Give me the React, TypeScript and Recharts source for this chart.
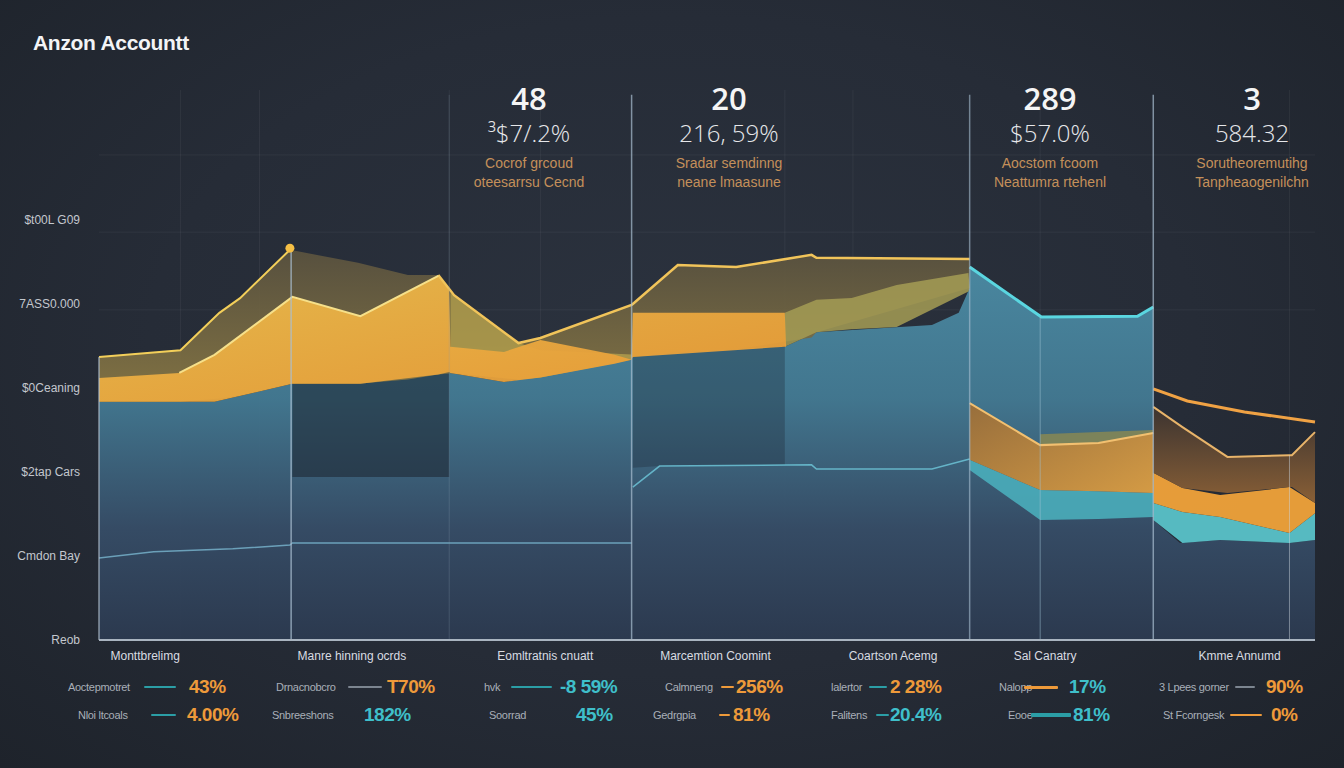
import React from 'react';
import { ComposedChart, Area, Line, XAxis, YAxis, CartesianGrid, ReferenceLine, ReferenceDot } from 'recharts';

// ---------- axis text ----------
const yTickValues = [0, 20, 40, 60, 80, 100];
const yTickLabels = ['Reob', 'Cmdon Bay', '$2tap Cars', '$0Ceaning', '7ASS0.000', '$t00L G09'];
const categoryPositions = [3.8, 20.8, 36.7, 50.7, 65.3, 77.8, 93.8];
const categories = ['Monttbrelimg', 'Manre hinning ocrds', 'Eomltratnis cnuatt', 'Marcemtion Coomint', 'Coartson Acemg', 'Sal Canatry', 'Kmme Annumd'];
const separatorXs = [15.8, 43.8, 71.6, 86.7];

// ---------- series values ----------
const baseX = [0, 9.5, 15.9, 21.0, 28.8, 28.9, 33.3, 43.8, 43.9, 46.1, 56.4, 59.0, 68.5, 70.7, 71.6, 71.6, 77.5, 85.4, 86.7, 86.7, 88.9, 92.2, 97.9, 100];
const baseTop = [56.7, 56.7, 61.0, 61.0, 63.8, 63.6, 61.4, 66.7, 67.4, 68.8, 69.8, 73.3, 75.0, 77.9, 83.8, 88.8, 76.9, 77.1, 79.3, 28.6, 23.1, 23.8, 23.1, 23.8];
const baseLow = [0, 0, 0, 0, 0, 0, 0, 0, 0, 0, 0, 0, 0, 0, 0, 0, 0, 0, 0, 0, 0, 0, 0, 0];

const shadeX = [15.9, 21.0, 28.8];
const shadeLow = [38.8, 38.8, 38.8];
const shadeTop = [61.0, 61.0, 63.8];
const shade3X = [43.9, 46.1, 56.4];
const shade3Low = [41.0, 41.4, 41.7];
const shade3Top = [67.4, 68.8, 69.8];

const oliveX = [0, 6.7, 9.9, 11.6, 15.7, 21.3, 25.4, 27.9, 29.2, 34.5, 36.3, 43.8, 43.9, 47.6, 52.4, 58.6, 59.0, 71.6];
const oliveTop = [67.4, 69.0, 77.9, 81.4, 92.9, 89.8, 86.9, 86.9, 82.1, 70.7, 71.9, 79.8, 80.0, 89.3, 88.8, 91.7, 91.0, 90.7];
const oliveLow = [56.7, 56.7, 57.5, 58.2, 61.0, 61.0, 62.0, 63.2, 63.6, 62.0, 62.5, 66.7, 67.4, 68.5, 69.2, 72.0, 73.3, 83.8];

const goldLineAX = [0, 6.7, 9.9, 11.6, 15.7];
const goldLineA = [67.4, 69.0, 77.9, 81.4, 92.9];
const goldLineBX = [27.9, 29.2, 34.5, 36.3, 43.8, 43.9, 47.6, 52.4, 58.6, 59.0, 71.6];
const goldLineB = [86.9, 82.1, 70.7, 71.9, 79.8, 80.0, 89.3, 88.8, 91.7, 91.0, 90.7];

const secondX = [6.6, 9.5, 15.9, 21.5, 27.9];
const secondV = [63.6, 67.9, 81.7, 77.1, 86.7];

const paleAX = [28.9, 34.5, 36.3, 43.8];
const paleATop = [82.6, 70.7, 69.0, 68.0];
const paleALow = [63.6, 62.0, 62.5, 66.7];
const paleBX = [56.4, 59.0, 61.9, 65.6, 71.5, 71.6];
const paleBTop = [77.9, 81.0, 81.4, 84.5, 87.4, 83.8];
const paleBLow = [69.8, 73.3, 74.0, 74.5, 83.0, 83.8];

const amberX = [0, 6.6, 9.5, 15.9, 21.5, 27.9, 28.8, 28.9, 33.3, 36.3, 42.4, 43.8, 43.9, 56.4, 56.5];
const amberTop = [62.4, 63.6, 67.9, 81.7, 77.1, 86.7, 83.3, 69.8, 68.6, 71.4, 67.9, 66.7, 77.9, 77.9, 69.8];
const amberLow = [56.7, 56.7, 56.7, 61.0, 61.0, 63.2, 63.8, 63.6, 61.4, 62.5, 65.8, 66.7, 67.4, 69.8, 69.8];

const paleLine1X = [0, 4.5, 11.0, 15.7, 15.9, 43.8];
const paleLine1 = [19.5, 21.0, 21.7, 22.6, 23.1, 23.1];
const paleLine2X = [43.9, 46.1, 58.6, 59.0, 68.5, 71.6];
const paleLine2 = [36.4, 41.4, 41.7, 40.7, 40.7, 43.1];

const cyanTopX = [71.6, 77.5, 85.4, 86.7];
const cyanTop = [88.8, 76.9, 77.1, 79.3];

const seg4X = [71.6, 77.4, 82.2, 86.7];
const seg4OrangeTop = [56.4, 46.4, 46.9, 49.3];
const seg4OrangeLow = [42.9, 35.7, 35.4, 35.0];
const seg4CyanLow = [40.5, 28.6, 28.8, 29.3];
const seg4TintX = [77.4, 82.2, 86.7];
const seg4TintTop = [49.0, 49.5, 50.0];
const seg4TintLow = [46.4, 46.9, 49.3];

const seg5LineX = [86.7, 89.5, 94.2, 100];
const seg5Line = [59.8, 56.9, 54.3, 51.9];
const brownX = [86.7, 89.1, 92.8, 97.9, 98.1, 100];
const brownTop = [55.5, 50.7, 43.6, 44.0, 44.0, 49.5];
const brownLow = [39.8, 36.2, 35.0, 36.4, 36.4, 32.6];
const seg5BandX = [86.7, 89.1, 92.2, 97.9, 100];
const seg5OrangeTop = [39.8, 36.2, 34.5, 36.4, 32.6];
const seg5OrangeLow = [32.6, 30.5, 29.3, 25.5, 30.2];
const seg5CyanLow = [28.6, 23.1, 23.8, 23.1, 23.8];

// ---------- annotation text ----------
const headNumbers = ['48', '20', '289', '3'];
const headPercents = ['\u00b3$7/.2%', '216, 59%', '$57.0%', '584.32'];
const headLabel1 = ['Cocrof grcoud', 'Sradar semdinng', 'Aocstom fcoom', 'Sorutheoremutihg'];
const headLabel2 = ['oteesarrsu Cecnd', 'neane lmaasune', 'Neattumra rtehenl', 'Tanpheaogenilchn'];
const headCenters = [529, 729, 1050, 1252];

const legendLabels = ['Aoctepmotret', 'Nloi ltcoals', 'Drnacnobcro', 'Snbreeshons', 'hvk', 'Soorrad', 'Calmneng', 'Gedrgpia', 'lalertor', 'Falitens', 'Nalopp', 'Eooe', '3 Lpees gorner', 'St Fcorngesk'];
const legendValues = ['43%', '4.00%', 'T70%', '182%', '-8 59%', '45%', '256%', '81%', '2 28%', '20.4%', '17%', '81%', '90%', '0%'];

const ORANGE = '#ee9a3a';
const CYAN = '#3fbfca';
const TEAL = '#2b9ea6';
const GRAY = '#7c8590';
// layout for legend entries: [labelX, rowY, lineX1, lineX2, valueX, lineColor, valueColor, lineThickness]
const legendLayout: any[] = [
  [68, 687, 144, 176, 189, TEAL, ORANGE, 2],
  [78, 715, 151, 176, 187, TEAL, ORANGE, 2],
  [276, 687, 348, 382, 387, GRAY, ORANGE, 2],
  [272, 715, 0, 0, 364, null, CYAN, 0],
  [484, 687, 511, 552, 560, TEAL, CYAN, 2],
  [489, 715, 0, 0, 576, null, CYAN, 0],
  [665, 687, 721, 734, 736, ORANGE, ORANGE, 2],
  [653, 715, 719, 730, 733, ORANGE, ORANGE, 2],
  [831, 687, 869, 887, 890, TEAL, ORANGE, 2],
  [831, 715, 876, 889, 890, TEAL, CYAN, 2],
  [999, 687, 1024, 1058, 1069, ORANGE, CYAN, 3],
  [1008, 715, 1031, 1071, 1073, TEAL, CYAN, 4],
  [1159, 687, 1235, 1255, 1266, GRAY, ORANGE, 2],
  [1163, 715, 1230, 1262, 1271, ORANGE, ORANGE, 2],
];

const band = (xs: number[], lo: number[], hi: number[]) => xs.map((x, i) => ({ x, r: [lo[i], hi[i]] }));
const pts = (xs: number[], v: number[]) => xs.map((x, i) => ({ x, v: v[i] }));

const Y_MAX = 130.95;
const SANS = '"Liberation Sans", Arial, sans-serif';

export default function App() {
  const areaProps = { type: 'linear' as const, dataKey: 'r', stroke: 'none', isAnimationActive: false, activeDot: false as any };
  const lineProps = { type: 'linear' as const, dataKey: 'v', dot: false, isAnimationActive: false, activeDot: false as any };
  return (
    <div style={{ position: 'absolute', left: 0, top: 0, width: 1344, height: 768, overflow: 'hidden',
      background: 'radial-gradient(ellipse at 50% 45%, #2b323e 0%, #262c37 55%, #1e232b 100%)', fontFamily: SANS }}>
      <div style={{ position: 'absolute', left: 33, top: 31, color: '#f3f4f6', fontSize: 21, fontWeight: 700, letterSpacing: -0.3 }}>Anzon Accountt</div>

      {headNumbers.map((n, i) => (
        <div key={i} style={{ position: 'absolute', left: headCenters[i] - 120, width: 240, top: 78, textAlign: 'center' }}>
          <div style={{ color: '#f5f5f5', fontSize: 31, fontWeight: 600, lineHeight: '40px', fontFamily: '"Open Sans", sans-serif' }}>{n}</div>
          <div style={{ color: '#e6e7ea', fontSize: 24, fontWeight: 300, lineHeight: '30px', marginTop: 0, fontFamily: '"Open Sans", sans-serif' }}>{headPercents[i]}</div>
          <div style={{ color: '#c4905a', fontSize: 14, lineHeight: '19px', marginTop: 6 }}>{headLabel1[i]}</div>
          <div style={{ color: '#c4905a', fontSize: 14, lineHeight: '19px' }}>{headLabel2[i]}</div>
        </div>
      ))}

      <ComposedChart width={1344} height={768} margin={{ top: 90, right: 29, bottom: 98, left: 0 }} style={{ position: 'absolute', left: 0, top: 0 }}>
        <defs>
          <linearGradient id="baseGrad" x1="0" y1="0" x2="0" y2="1">
            <stop offset="0" stopColor="#4b8ba4" />
            <stop offset="0.35" stopColor="#437a93" />
            <stop offset="0.7" stopColor="#364d67" />
            <stop offset="1" stopColor="#2c3a50" />
          </linearGradient>
          <linearGradient id="oliveGrad" x1="0" y1="0" x2="0" y2="1">
            <stop offset="0" stopColor="#5b533f" />
            <stop offset="1" stopColor="#8a7944" />
          </linearGradient>
          <linearGradient id="amberGrad" x1="0" y1="0" x2="1" y2="1">
            <stop offset="0" stopColor="#ecbd4c" />
            <stop offset="1" stopColor="#e89734" />
          </linearGradient>
          <linearGradient id="brownGrad" x1="0" y1="0" x2="0" y2="1">
            <stop offset="0" stopColor="#3d3430" />
            <stop offset="1" stopColor="#8e6236" />
          </linearGradient>
          <linearGradient id="seg4Grad" x1="0" y1="0" x2="1" y2="1">
            <stop offset="0" stopColor="#9c6e38" />
            <stop offset="1" stopColor="#dc9e42" />
          </linearGradient>
        </defs>
        <CartesianGrid stroke="#ffffff" strokeOpacity={0.05} horizontalValues={[78.6, 97.1, 115.5]} verticalValues={[6.7, 13.2, 28.8, 36.3, 56.4, 62.0, 77.4, 97.9]} />
        <XAxis type="number" dataKey="x" domain={[0, 100]} ticks={categoryPositions} interval={0}
          tickFormatter={(v: number) => categories[categoryPositions.indexOf(v)] ?? ''}
          tickLine={false} axisLine={{ stroke: '#a9b4c0', strokeWidth: 2 }} height={30} tickMargin={5}
          tick={{ fill: '#d9dce2', fontSize: 12, fontFamily: SANS }} allowDuplicatedCategory />
        <YAxis type="number" domain={[0, Y_MAX]} ticks={yTickValues} interval={0} width={99}
          tickFormatter={(v: number) => yTickLabels[yTickValues.indexOf(v)] ?? ''}
          tickLine={false} axisLine={false} tickMargin={13} allowDataOverflow
          tick={{ fill: '#c3c7ce', fontSize: 12, fontFamily: SANS }} />

        <Area {...areaProps} data={band(baseX, baseLow, baseTop)} fill="url(#baseGrad)" fillOpacity={0.95} />
        <Area {...areaProps} data={band(shadeX, shadeLow, shadeTop)} fill="#1b222d" fillOpacity={0.55} />
        <Area {...areaProps} data={band(shade3X, shade3Low, shade3Top)} fill="#1b222d" fillOpacity={0.3} />
        <Area {...areaProps} data={band(oliveX, oliveLow, oliveTop)} fill="url(#oliveGrad)" fillOpacity={0.92} />
        <Area {...areaProps} data={band(paleAX, paleALow, paleATop)} fill="#b7a34e" fillOpacity={0.75} />
        <Area {...areaProps} data={band(paleBX, paleBLow, paleBTop)} fill="#a59c55" fillOpacity={0.85} />
        <Area {...areaProps} data={band(amberX, amberLow, amberTop)} fill="url(#amberGrad)" fillOpacity={0.95} />

        <Area {...areaProps} data={band(seg4X, seg4CyanLow, seg4OrangeLow)} fill="#4bb3bf" fillOpacity={0.85} />
        <Area {...areaProps} data={band(seg4X, seg4OrangeLow, seg4OrangeTop)} fill="url(#seg4Grad)" fillOpacity={0.95} />
        <Area {...areaProps} data={band(seg4TintX, seg4TintLow, seg4TintTop)} fill="#8c8a50" fillOpacity={0.8} />

        <Area {...areaProps} data={band(seg5BandX, seg5CyanLow, seg5OrangeLow)} fill="#5ccad0" fillOpacity={0.9} />
        <Area {...areaProps} data={band(seg5BandX, seg5OrangeLow, seg5OrangeTop)} fill="#f0a23a" fillOpacity={0.95} />
        <Area {...areaProps} data={band(brownX, brownLow, brownTop)} fill="url(#brownGrad)" fillOpacity={0.95} />

        <Line {...lineProps} data={pts(paleLine1X, paleLine1)} stroke="#79b6cf" strokeWidth={1.5} strokeOpacity={0.8} />
        <Line {...lineProps} data={pts(paleLine2X, paleLine2)} stroke="#6cc3d6" strokeWidth={1.5} strokeOpacity={0.85} />
        <Line {...lineProps} data={pts(goldLineAX, goldLineA)} stroke="#f3cf5a" strokeWidth={2} />
        <Line {...lineProps} data={pts(goldLineBX, goldLineB)} stroke="#f1c45a" strokeWidth={2.5} />
        <Line {...lineProps} data={pts(secondX, secondV)} stroke="#f6e08a" strokeWidth={2} />
        <Line {...lineProps} data={pts(cyanTopX, cyanTop)} stroke="#5ad6e0" strokeWidth={3} />
        <Line {...lineProps} data={pts(seg4X, seg4OrangeTop)} stroke="#f2c070" strokeWidth={2} />
        <Line {...lineProps} data={pts(seg5LineX, seg5Line)} stroke="#f0a244" strokeWidth={3} />
        <Line {...lineProps} data={pts(brownX, brownTop)} stroke="#e8b46a" strokeWidth={2} />

        <ReferenceLine segment={[{ x: 0, y: 0 }, { x: 0, y: 67.4 }]} stroke="#b3c3d2" strokeOpacity={0.7} strokeWidth={1.5} />
        <ReferenceLine segment={[{ x: 28.8, y: 0 }, { x: 28.8, y: 129.8 }]} stroke="#8aa0b4" strokeOpacity={0.25} strokeWidth={1} />
        <ReferenceLine segment={[{ x: 77.4, y: 0 }, { x: 77.4, y: 76.9 }]} stroke="#9fc4d6" strokeOpacity={0.5} strokeWidth={1} />
        <ReferenceLine segment={[{ x: 97.9, y: 0 }, { x: 97.9, y: 44.0 }]} stroke="#c9d3dc" strokeOpacity={0.5} strokeWidth={1} />
        <ReferenceLine segment={[{ x: separatorXs[0], y: 0 }, { x: separatorXs[0], y: 92.9 }]} stroke="#a9bfd2" strokeOpacity={0.75} strokeWidth={1.5} />
        <ReferenceLine segment={[{ x: separatorXs[1], y: 0 }, { x: separatorXs[1], y: 129.8 }]} stroke="#a9bfd2" strokeOpacity={0.7} strokeWidth={1.5} />
        <ReferenceLine segment={[{ x: separatorXs[2], y: 0 }, { x: separatorXs[2], y: 129.8 }]} stroke="#a9bfd2" strokeOpacity={0.6} strokeWidth={1.5} />
        <ReferenceLine segment={[{ x: separatorXs[3], y: 0 }, { x: separatorXs[3], y: 129.8 }]} stroke="#a9bfd2" strokeOpacity={0.7} strokeWidth={1.5} />
        <ReferenceDot x={15.7} y={93.3} r={4.5} fill="#f5bf45" stroke="none" />
      </ComposedChart>

      {legendLayout.map((l, i) => (
        <React.Fragment key={i}>
          <div style={{ position: 'absolute', left: l[0], top: l[1] - 8, fontSize: 11, lineHeight: '16px', color: '#a9afb8', whiteSpace: 'nowrap', letterSpacing: -0.3 }}>{legendLabels[i]}</div>
          {l[5] && <div style={{ position: 'absolute', left: l[2], top: l[1] - l[7] / 2, width: l[3] - l[2], height: l[7], background: l[5], borderRadius: 1 }} />}
          <div style={{ position: 'absolute', left: l[4], top: l[1] - 12, fontSize: 19, lineHeight: '24px', color: l[6], fontWeight: 700, whiteSpace: 'nowrap', fontFamily: '"Liberation Sans Narrow", "Liberation Sans", sans-serif', letterSpacing: -0.5 }}>{legendValues[i]}</div>
        </React.Fragment>
      ))}
    </div>
  );
}
